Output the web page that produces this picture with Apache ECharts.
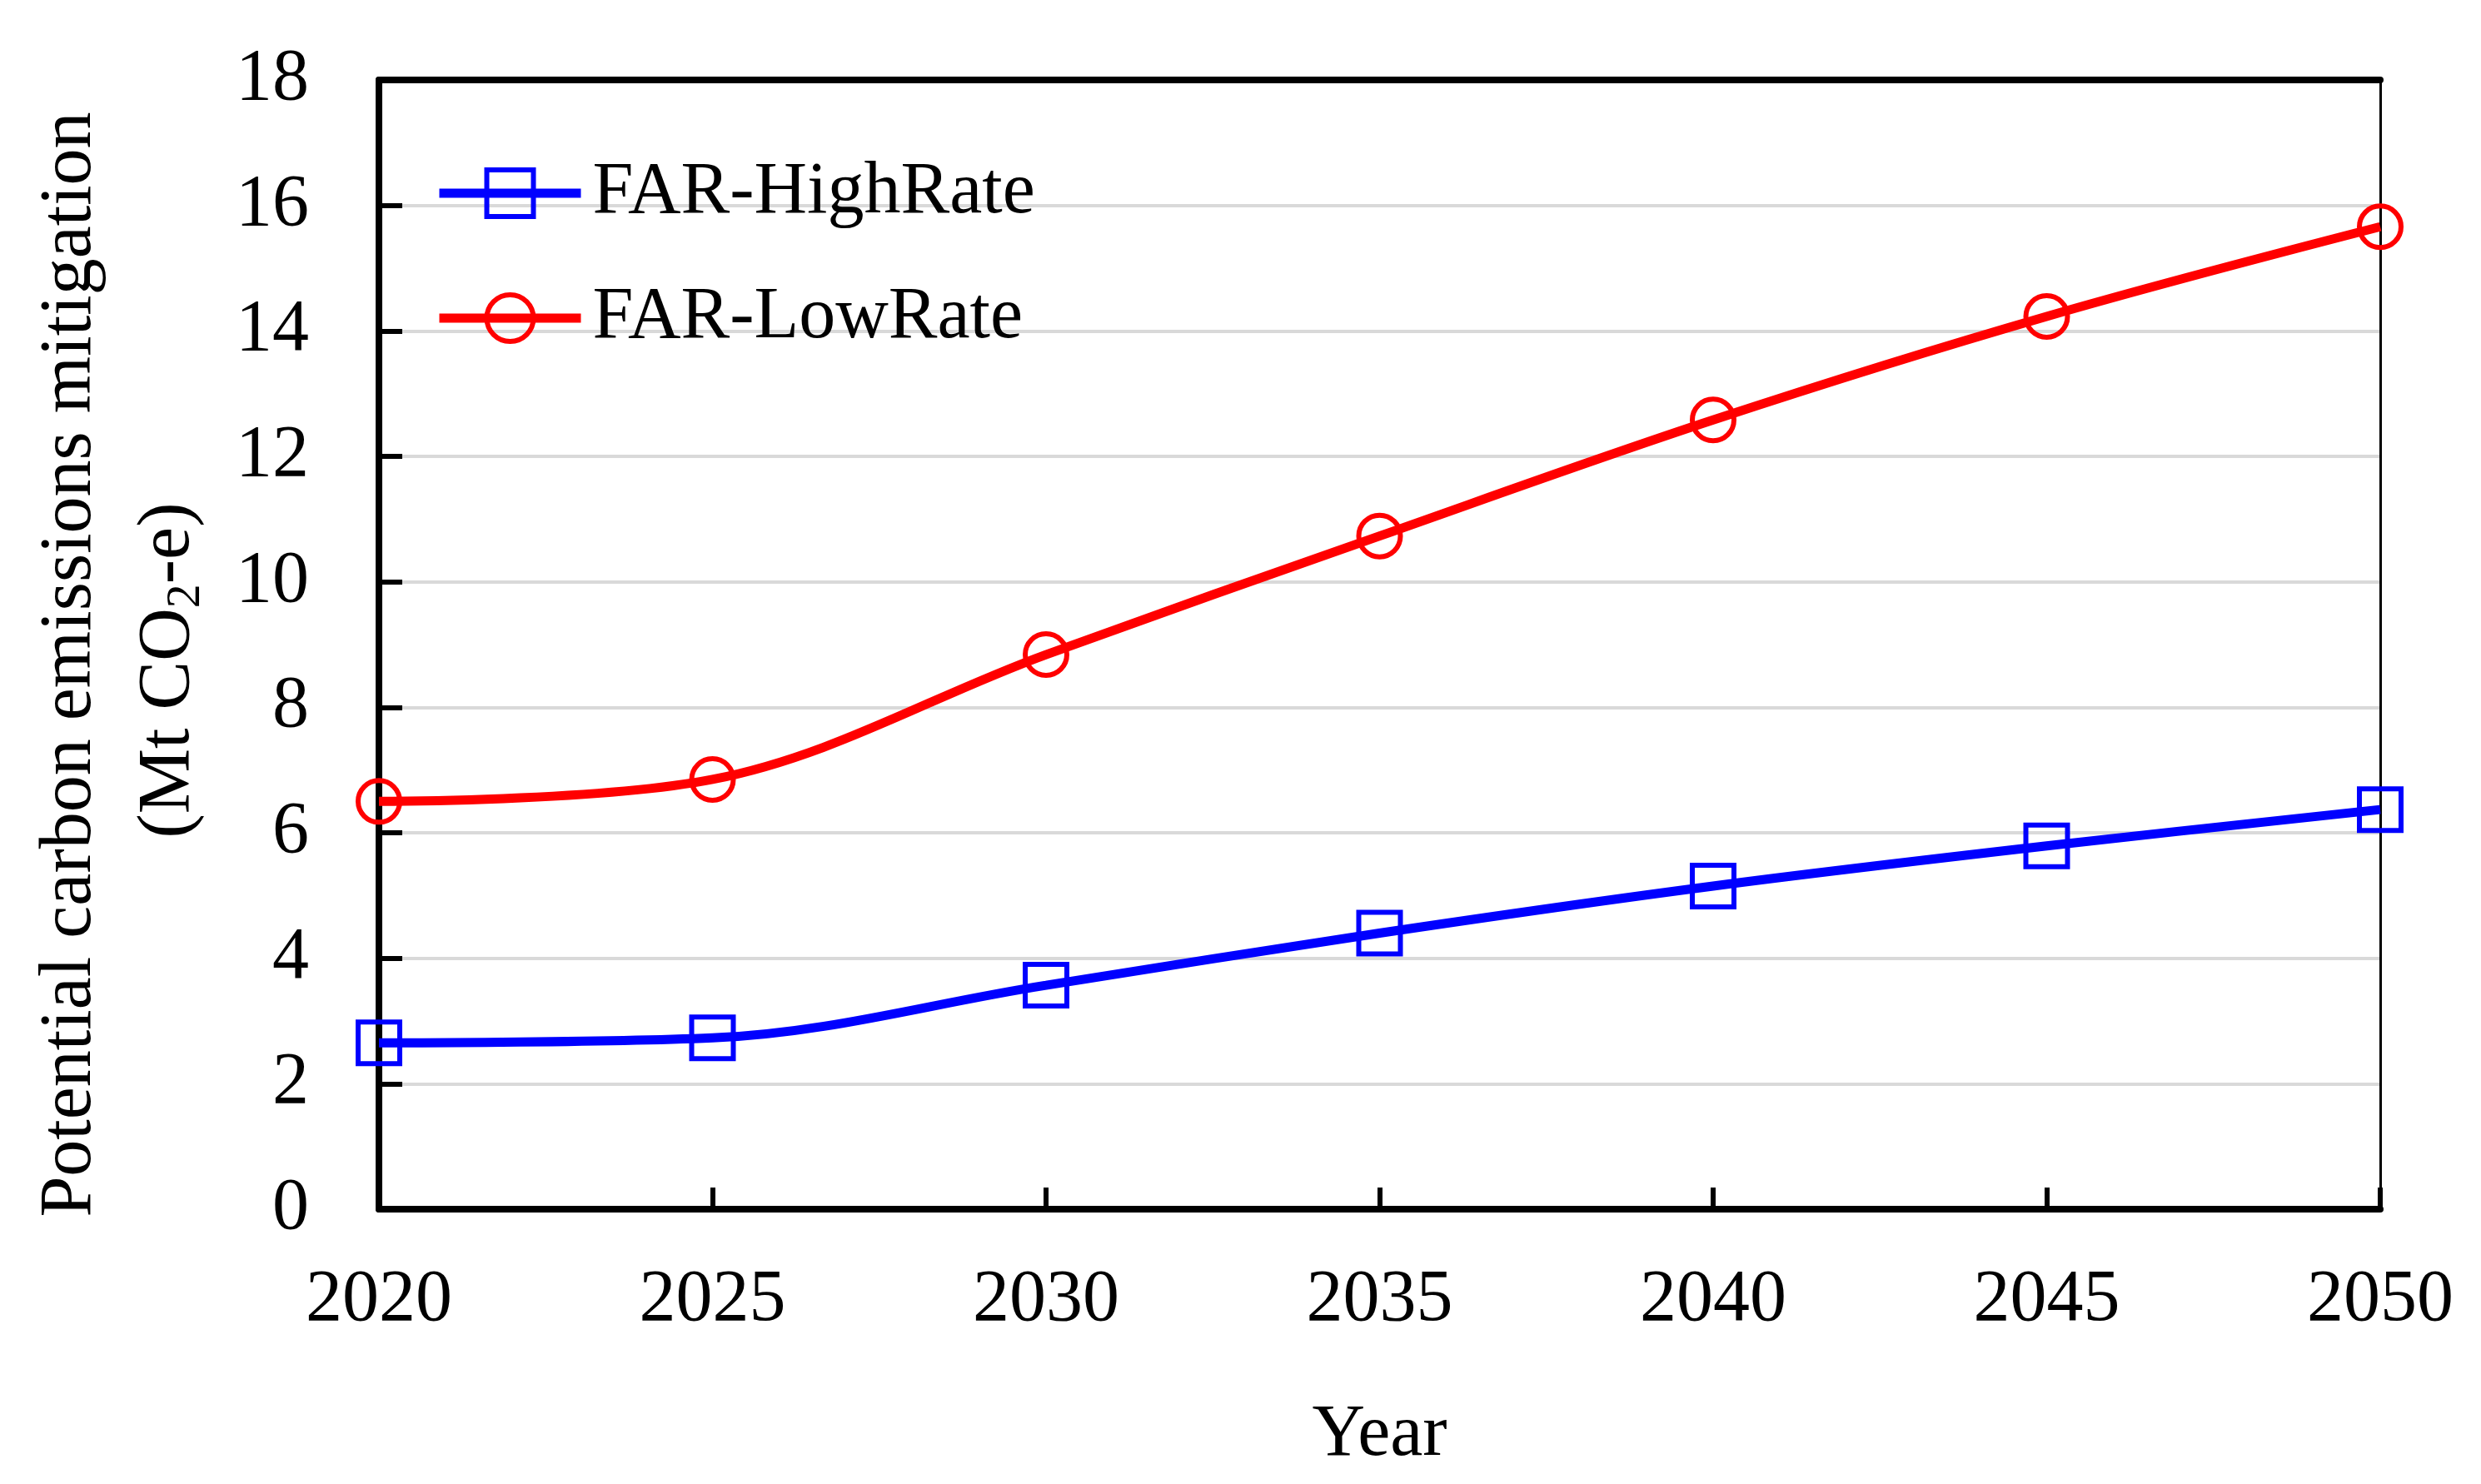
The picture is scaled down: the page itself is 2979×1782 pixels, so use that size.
<!DOCTYPE html>
<html>
<head>
<meta charset="utf-8">
<script src="https://cdn.jsdelivr.net/npm/echarts@6/dist/echarts.min.js"></script>
<style>
html,body{margin:0;padding:0;background:#fff;}
#chart{width:2979px;height:1782px;}
</style>
</head>
<body>
<div id="chart"></div>
<script>
const years = ['2020', '2025', '2030', '2035', '2040', '2045', '2050'];
const highRate = [2.65, 2.73, 3.57, 4.40, 5.15, 5.79, 6.37];
const lowRate = [6.50, 6.85, 8.84, 10.73, 12.58, 14.23, 15.66];
const seriesNames = ['FAR-HighRate', 'FAR-LowRate'];
const yMin = 0, yMax = 18, yStep = 2;

const FONT = '"Liberation Serif", "Times New Roman", serif';
const BLUE = '#0000ff';
const RED = '#ff0000';

const chart = echarts.init(document.getElementById('chart'), null, {renderer: 'canvas'});
chart.setOption({
  backgroundColor: '#ffffff',
  animation: false,
  grid: {left: 455, right: 121, top: 96, bottom: 330},
  legend: {
    orient: 'vertical',
    left: 522,
    top: 188,
    padding: 0,
    itemWidth: 170,
    itemHeight: 70,
    itemGap: 62,
    textStyle: {fontFamily: FONT, fontSize: 88, color: '#000', lineHeight: 70, padding: [0, 0, 0, 9]},
    data: [
      {name: seriesNames[0],
       itemStyle: {color: 'rgba(0,0,0,0)', borderColor: BLUE, borderWidth: 6},
       lineStyle: {color: BLUE, width: 11}},
      {name: seriesNames[1],
       itemStyle: {color: 'rgba(0,0,0,0)', borderColor: RED, borderWidth: 6},
       lineStyle: {color: RED, width: 11}}
    ]
  },
  xAxis: [{
    type: 'category',
    data: years,
    boundaryGap: false,
    axisLine: {show: true, lineStyle: {color: '#000', width: 8}},
    axisTick: {show: true, inside: true, length: 26, lineStyle: {color: '#000', width: 6}},
    axisLabel: {fontFamily: FONT, fontSize: 88, color: '#000', margin: 66},
    splitLine: {show: false},
    name: 'Year',
    nameLocation: 'middle',
    nameGap: 228,
    nameTextStyle: {fontFamily: FONT, fontSize: 88, color: '#000'}
  }, {
    type: 'category',
    data: years,
    boundaryGap: false,
    position: 'top',
    axisLine: {show: true, onZero: false, lineStyle: {color: '#000', width: 8}},
    axisTick: {show: false},
    axisLabel: {show: false},
    splitLine: {show: false}
  }],
  yAxis: [{
    type: 'value',
    min: yMin, max: yMax, interval: yStep,
    axisLine: {show: true, lineStyle: {color: '#000', width: 8}},
    axisTick: {show: true, inside: true, length: 28, lineStyle: {color: '#000', width: 6}},
    axisLabel: {fontFamily: FONT, fontSize: 88, color: '#000', margin: 84},
    splitLine: {show: true, lineStyle: {color: '#d9d9d9', width: 4}}
  }, {
    type: 'value',
    min: yMin, max: yMax, interval: yStep,
    position: 'right',
    axisLine: {show: true, onZero: false, lineStyle: {color: '#000', width: 3}},
    axisTick: {show: false},
    axisLabel: {show: false},
    splitLine: {show: false}
  }],
  graphic: [
    {type: 'text', x: 85, y: 798, rotation: Math.PI / 2, z: 10,
     style: {text: 'Potential carbon emissions mitigation', fontFamily: FONT, fontSize: 88, fill: '#000',
             align: 'center', verticalAlign: 'middle'}},
    {type: 'text', x: 203, y: 805, rotation: Math.PI / 2, z: 10,
     style: {text: '{a|(Mt CO}{s|2}{a|-e)}', fill: '#000', align: 'center', verticalAlign: 'middle',
             rich: {
               a: {fontFamily: FONT, fontSize: 88, lineHeight: 100, fill: '#000'},
               s: {fontFamily: FONT, fontSize: 58, lineHeight: 58, verticalAlign: 'bottom', fill: '#000'}
             }}}
  ],
  series: [{
    name: seriesNames[0],
    type: 'line',
    data: highRate,
    smooth: 0.35,
    clip: false,
    symbol: 'rect',
    symbolSize: 50,
    lineStyle: {color: BLUE, width: 11},
    itemStyle: {color: 'rgba(0,0,0,0)', borderColor: BLUE, borderWidth: 6},
    z: 3
  }, {
    name: seriesNames[1],
    type: 'line',
    data: lowRate,
    smooth: 0.35,
    clip: false,
    symbol: 'circle',
    symbolSize: 50,
    lineStyle: {color: RED, width: 11},
    itemStyle: {color: 'rgba(0,0,0,0)', borderColor: RED, borderWidth: 6},
    z: 3
  }]
});
</script>
</body>
</html>
